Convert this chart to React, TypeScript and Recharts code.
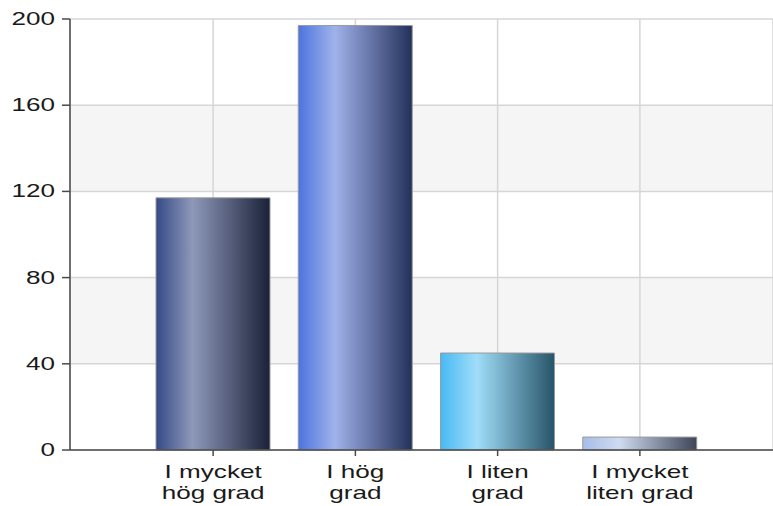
import React from 'react';
import { BarChart, Bar, XAxis, YAxis, CartesianGrid, Cell } from 'recharts';

const categories = ['I mycket|hög grad', 'I hög|grad', 'I liten|grad', 'I mycket|liten grad'];
const counts = [117, 197, 45, 6];
const yTicks = [0, 40, 80, 120, 160, 200];

// one horizontal gradient per bar: [left, highlight, right]
const GRADS = [
  ['#354a86', '#8e98b9', '#1a2138'],
  ['#4c74df', '#a0b2ea', '#23305a'],
  ['#47b9f3', '#a0ddf8', '#265468'],
  ['#a6bde9', '#cfdbf0', '#3d4558'],
];

const data = categories.map((c, i) => ({ name: c, value: counts[i] }));

const FONT = '"Liberation Sans", Arial, sans-serif';
const STRETCH = 1.45;

const XTick = (props: any) => {
  const { x, payload } = props;
  const lines = String(payload.value).split('|');
  return (
    <g>
      {lines.map((l, i) => (
        <text
          key={i}
          transform={`translate(${x},${478 + i * 21}) scale(${STRETCH},1)`}
          textAnchor="middle"
          fontSize={18}
          fontFamily={FONT}
          fill="#1a1a1a"
        >
          {l}
        </text>
      ))}
    </g>
  );
};

const YTick = (props: any) => {
  const { y, payload } = props;
  return (
    <text
      transform={`translate(55,${y + 6}) scale(${STRETCH},1)`}
      textAnchor="end"
      fontSize={18}
      fontFamily={FONT}
      fill="#1a1a1a"
    >
      {payload.value}
    </text>
  );
};

export default function App() {
  return (
    <div style={{ position: 'absolute', left: 0, top: 0, width: 773, height: 506, background: '#fff' }}>
      <BarChart width={773} height={506} data={data} margin={{ top: 19, right: 0, bottom: 0, left: 0 }}>
        <defs>
          {GRADS.map((g, i) => (
            <linearGradient key={i} id={`bar${i}`} x1="0" y1="0" x2="1" y2="0">
              <stop offset="0%" stopColor={g[0]} />
              <stop offset="32%" stopColor={g[1]} />
              <stop offset="100%" stopColor={g[2]} />
            </linearGradient>
          ))}
        </defs>
        <CartesianGrid
          stroke="#d6d6d6"
          strokeWidth={1.5}
          horizontalFill={['#ffffff', '#f5f5f5']}
          fillOpacity={1}
        />
        <XAxis
          dataKey="name"
          height={56}
          padding={{ left: 72, right: 62 }}
          stroke="#4a4a4a"
          strokeWidth={1.5}
          tickSize={6}
          tick={<XTick />}
          interval={0}
        />
        <YAxis
          width={70}
          domain={[0, 200]}
          ticks={yTicks}
          stroke="#4a4a4a"
          strokeWidth={1.5}
          tickSize={8}
          tick={<YTick />}
          interval={0}
        />
        <Bar dataKey="value" barSize={114} stroke="#9a9a9a" strokeWidth={1} isAnimationActive={false}>
          {data.map((_, i) => (
            <Cell key={i} fill={`url(#bar${i})`} />
          ))}
        </Bar>
      </BarChart>
    </div>
  );
}
